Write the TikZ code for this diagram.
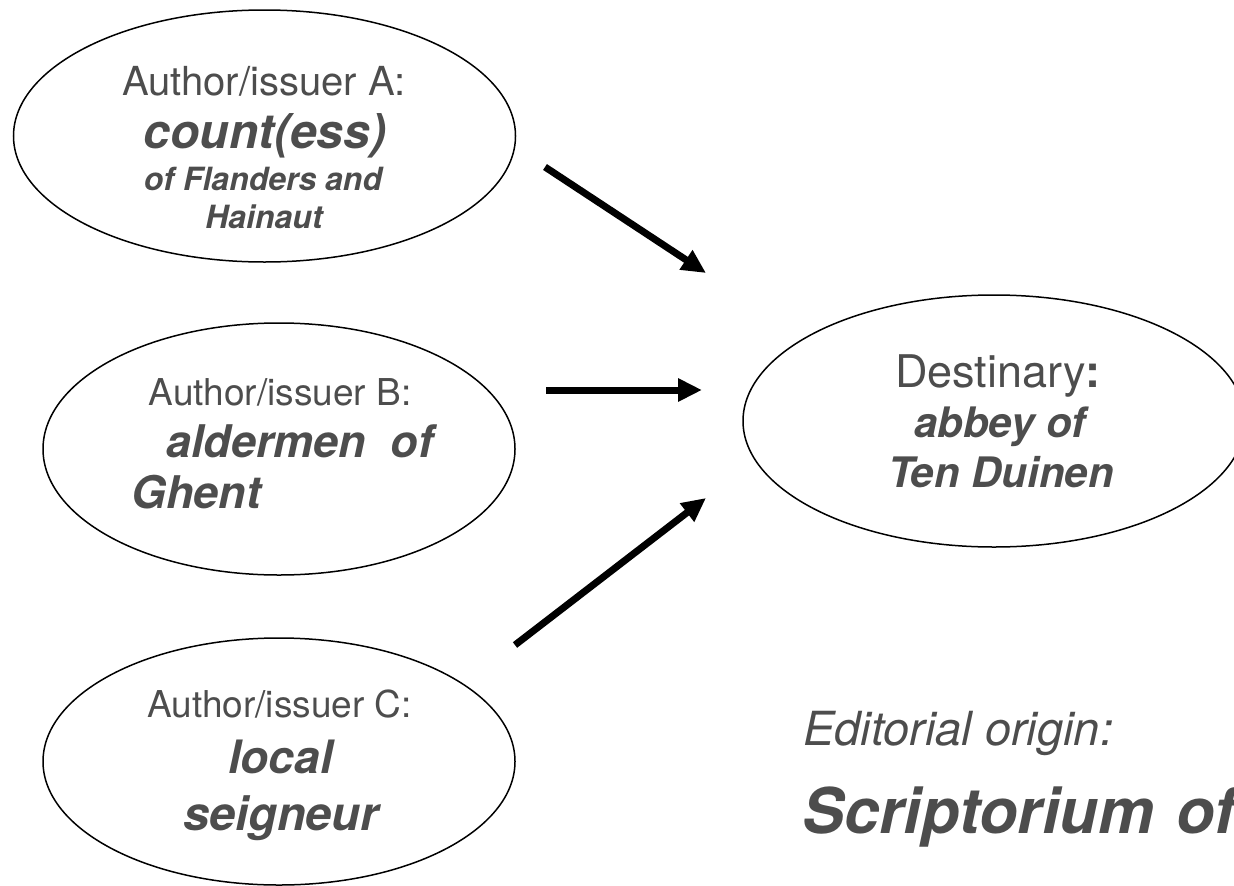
\documentclass[tikz,border=0pt]{standalone}
\usepackage{fontspec}
\setmainfont{TeX Gyre Heros}
\usetikzlibrary{shapes.geometric,arrows.meta}
\definecolor{txt}{RGB}{77,77,77}
\tikzset{
  oval/.style={ellipse, draw=black, line width=1.5pt, inner sep=0pt},
  lbl/.style={anchor=base, inner sep=0pt, text=txt},
  lblw/.style={anchor=base west, inner sep=0pt, text=txt},
  flow/.style={line width=7pt, -{Triangle[length=24pt,width=22pt]}},
}
\newcommand{\fs}[1]{\fontsize{#1}{#1}\selectfont}
\begin{document}
\begin{tikzpicture}[x=1pt,y=-1pt]
\useasboundingbox (0,0) rectangle (1234,886);
% ellipses
\node[oval, minimum width=502pt, minimum height=252pt] (A) at (264.5,136) {};
\node[oval, minimum width=472pt, minimum height=252pt] (B) at (279,449) {};
\node[oval, minimum width=472pt, minimum height=247pt] (C) at (279,761.5) {};
\node[oval, minimum width=502pt, minimum height=252pt] (D) at (994,421) {};
% texts A
\node[lbl] (a1) at (264,95) {\fs{40}Author/issuer A:};
\node[lbl] (a2) at (265,148) {\fs{48}\bfseries\itshape count(ess)};
\node[lbl] (a3) at (263,190) {\fs{32}\bfseries\itshape of Flanders and};
\node[lbl] (a4) at (264,228) {\fs{32}\bfseries\itshape Hainaut};
% texts B
\node[lbl] (b1) at (280,405) {\fs{37}Author/issuer B:};
\node[lblw] (b2) at (166,457) {\fs{45}\bfseries\itshape aldermen\ \ of};
\node[lblw] (b3) at (131,508) {\fs{45}\bfseries\itshape Ghent};
% texts C
\node[lbl] (c1) at (279.5,717) {\fs{37}Author/issuer C:};
\node[lbl] (c2) at (280.5,773) {\fs{46}\bfseries\itshape local};
\node[lbl] (c3) at (281,830) {\fs{47}\bfseries\itshape seigneur};
% texts D
\node[lbl] (d1) at (998,387) {\fs{45}Destinary\textbf{:}};
\node[lbl] (d2) at (1000,437) {\fs{42}\bfseries\itshape abbey of};
\node[lbl] (d3) at (1001,487) {\fs{42}\bfseries\itshape Ten Duinen};
% editorial origin
\node[lblw] (e1) at (803,745) {\fs{47}\itshape Editorial origin:};
\node[lblw] (e2) at (802,833) {\fs{63}\bfseries\itshape Scriptorium\hspace{22pt}of};
% arrows
\coordinate (aS) at (545,167);
\coordinate (aE) at (706,273);
\coordinate (bS) at (546,390);
\coordinate (bE) at (702,390);
\coordinate (cS) at (515,645);
\coordinate (cE) at (706,498);
\draw[flow] (aS) -- (aE);
\draw[flow] (bS) -- (bE);
\draw[flow] (cS) -- (cE);
\end{tikzpicture}
\end{document}
